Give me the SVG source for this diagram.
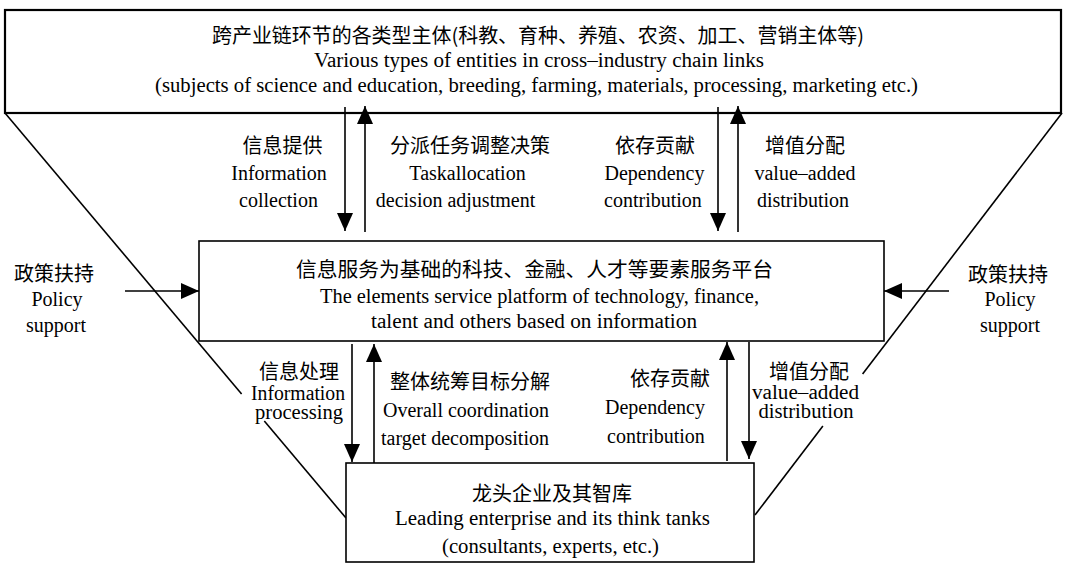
<svg xmlns="http://www.w3.org/2000/svg" width="1065" height="564" viewBox="0 0 1065 564">
<defs>
<style>
.box{fill:#fff;stroke:#000;stroke-width:1.6}
.top{stroke-width:2.2}
.ln{stroke:#000;stroke-width:1.6;fill:none}
.ar{stroke:#000;stroke-width:1.6;fill:none;marker-end:url(#ah)}
.zh{font-family:"Noto Sans CJK SC","Noto Sans CJK JP",sans-serif;font-size:20px;fill:#000}
.en{font-family:"Liberation Serif","DejaVu Serif",serif;font-size:20px;fill:#000}
.c{text-anchor:middle}
</style>
<marker id="ah" markerUnits="userSpaceOnUse" markerWidth="18" markerHeight="16" viewBox="0 0 18 16" refX="18" refY="8" orient="auto">
<path d="M0,0 L18,8 L0,16 Z" fill="#000"/>
</marker>
</defs>
<rect width="1065" height="564" fill="#fff"/>

<g id="connectors">
<line class="ln" x1="5" y1="113" x2="241.6" y2="394"/>
<line class="ln" x1="264.3" y1="421" x2="346" y2="518"/>
<line class="ln" x1="1062" y1="113" x2="862.6" y2="374"/>
<line class="ln" x1="822.9" y1="426" x2="755" y2="515"/>
<line class="ar" x1="345" y1="107" x2="345" y2="231"/>
<line class="ar" x1="365" y1="232" x2="365" y2="106"/>
<line class="ar" x1="718" y1="107" x2="718" y2="231"/>
<line class="ar" x1="738" y1="232" x2="738" y2="106"/>
<line class="ar" x1="352" y1="344" x2="352" y2="462"/>
<line class="ar" x1="374" y1="463" x2="374" y2="344"/>
<line class="ar" x1="727" y1="461" x2="727" y2="342"/>
<line class="ar" x1="749" y1="342" x2="749" y2="459"/>
<line class="ar" x1="125" y1="291" x2="199" y2="291"/>
<line class="ar" x1="949" y1="291" x2="884" y2="291"/>
</g>

<g id="top-entities">
<rect class="box top" x="5" y="10" width="1056" height="103" style="fill:none"/>
<text class="zh" x="212" y="42.5" font-size="19" textLength="652" lengthAdjust="spacingAndGlyphs">跨产业链环节的各类型主体(科教、育种、养殖、农资、加工、营销主体等)</text>
<text class="en" x="314" y="67" font-size="19" textLength="450" lengthAdjust="spacingAndGlyphs">Various types of entities in cross–industry chain links</text>
<text class="en" x="155" y="92" font-size="19" textLength="763" lengthAdjust="spacingAndGlyphs">(subjects of science and education, breeding, farming, materials, processing, marketing etc.)</text>
</g>

<g id="service-platform">
<rect class="box" x="199" y="241" width="685" height="100"/>
<text class="zh" x="296" y="277" font-size="21" textLength="477" lengthAdjust="spacingAndGlyphs">信息服务为基础的科技、金融、人才等要素服务平台</text>
<text class="en" x="320" y="303" textLength="439" lengthAdjust="spacingAndGlyphs">The elements service platform of technology, finance,</text>
<text class="en" x="371" y="328" textLength="326" lengthAdjust="spacingAndGlyphs">talent and others based on information</text>
</g>

<g id="leading-enterprise">
<rect class="box" x="346" y="463" width="408" height="99"/>
<text class="zh c" x="552" y="501" font-size="21">龙头企业及其智库</text>
<text class="en c" x="552.5" y="525" textLength="315" lengthAdjust="spacingAndGlyphs">Leading enterprise and its think tanks</text>
<text class="en c" x="550.5" y="553" textLength="217" lengthAdjust="spacingAndGlyphs">(consultants, experts, etc.)</text>
</g>

<g id="labels">
<text class="zh c" x="282.5" y="152.5" font-size="21">信息提供</text>
<text class="en c" x="279" y="180">Information</text>
<text class="en c" x="278.5" y="207">collection</text>

<text class="zh c" x="470" y="152.5" font-size="21">分派任务调整决策</text>
<text class="en c" x="467.5" y="180">Taskallocation</text>
<text class="en c" x="455.5" y="207">decision adjustment</text>

<text class="zh c" x="655" y="152.5" font-size="21">依存贡献</text>
<text class="en c" x="654.5" y="180">Dependency</text>
<text class="en c" x="653" y="207">contribution</text>

<text class="zh c" x="805" y="152.5" font-size="21">增值分配</text>
<text class="en c" x="805" y="180">value–added</text>
<text class="en c" x="803" y="207">distribution</text>

<text class="zh c" x="54" y="280.5" font-size="21">政策扶持</text>
<text class="en c" x="57" y="306">Policy</text>
<text class="en c" x="56" y="332">support</text>

<text class="zh c" x="1008" y="282" font-size="21">政策扶持</text>
<text class="en c" x="1010" y="306">Policy</text>
<text class="en c" x="1010" y="332">support</text>

<text class="zh c" x="299" y="379" font-size="20">信息处理</text>
<text class="en c" x="298" y="400" font-size="19" textLength="94" lengthAdjust="spacingAndGlyphs">Information</text>
<text class="en c" x="299" y="419" font-size="19" textLength="88" lengthAdjust="spacingAndGlyphs">processing</text>

<text class="zh c" x="470" y="389" font-size="21">整体统筹目标分解</text>
<text class="en c" x="466" y="417">Overall coordination</text>
<text class="en c" x="465" y="445">target decomposition</text>

<text class="zh c" x="670" y="385.5" font-size="21">依存贡献</text>
<text class="en c" x="655" y="414">Dependency</text>
<text class="en c" x="656" y="443">contribution</text>

<text class="zh c" x="809" y="378.5" font-size="20">增值分配</text>
<text class="en c" x="805.5" y="399" font-size="19" textLength="107" lengthAdjust="spacingAndGlyphs">value–added</text>
<text class="en c" x="806" y="418" font-size="19" textLength="95" lengthAdjust="spacingAndGlyphs">distribution</text>
</g>
</svg>
